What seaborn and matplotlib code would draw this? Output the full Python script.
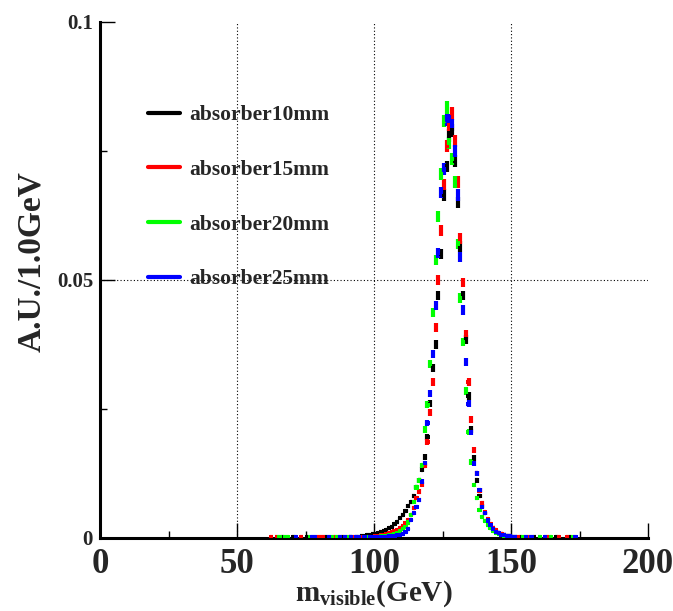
import numpy as np
import pandas as pd
import matplotlib
matplotlib.use("Agg")
import matplotlib.pyplot as plt
import seaborn as sns
from matplotlib.lines import Line2D
from matplotlib.ticker import MultipleLocator, FixedLocator, FixedFormatter

# ---------------- data (A.U. per 1 GeV bin) ----------------
series_names = ["absorber10mm", "absorber15mm", "absorber20mm", "absorber25mm"]
series_colors = ["#000000", "#ff0000", "#00ff00", "#0000ff"]

# lower bin edges of the core region (1 GeV bins, 100..149)
core_edges = list(range(100, 150))

black_core = [0.0008, 0.0010, 0.0012, 0.0014, 0.0016, 0.0019, 0.0022, 0.0027, 0.0031, 0.0038,
              0.0045, 0.0053, 0.0062, 0.0070, 0.0082, 0.0099, 0.0112, 0.0132, 0.0157, 0.0196,
              0.0260, 0.0330, 0.0375, 0.0470, 0.0550, 0.0665, 0.0720, 0.0780, 0.0790, 0.0730,
              0.0650, 0.0565, 0.0470, 0.0385, 0.0275, 0.0210, 0.0155, 0.0112, 0.0082, 0.0062,
              0.0048, 0.0035, 0.0026, 0.0019, 0.0013, 0.0009, 0.0007, 0.0005, 0.0004, 0.0003]
red_core = [0.0003, 0.0004, 0.0005, 0.0006, 0.0007, 0.0009, 0.0011, 0.0013, 0.0016, 0.0019,
            0.0023, 0.0028, 0.0035, 0.0045, 0.0058, 0.0078, 0.0090, 0.0104, 0.0140, 0.0186,
            0.0244, 0.0302, 0.0408, 0.0500, 0.0596, 0.0685, 0.0760, 0.0800, 0.0823, 0.0770,
            0.0690, 0.0580, 0.0495, 0.0395, 0.0302, 0.0230, 0.0170, 0.0125, 0.0092, 0.0068,
            0.0050, 0.0037, 0.0027, 0.0020, 0.0015, 0.0010, 0.0007, 0.0005, 0.0004, 0.0003]
green_core = [0.0002, 0.0002, 0.0003, 0.0003, 0.0004, 0.0005, 0.0006, 0.0008, 0.0010, 0.0013,
              0.0017, 0.0022, 0.0030, 0.0045, 0.0070, 0.0098, 0.0112, 0.0141, 0.0210, 0.0258,
              0.0338, 0.0437, 0.0539, 0.0624, 0.0705, 0.0808, 0.0834, 0.0765, 0.0735, 0.0690,
              0.0570, 0.0465, 0.0380, 0.0285, 0.0205, 0.0147, 0.0103, 0.0078, 0.0054, 0.0041,
              0.0033, 0.0025, 0.0019, 0.0014, 0.0010, 0.0007, 0.0005, 0.0004, 0.0003, 0.0002]
blue_core = [0.0001, 0.0001, 0.0002, 0.0002, 0.0002, 0.0003, 0.0003, 0.0004, 0.0005, 0.0006,
             0.0008, 0.0012, 0.0018, 0.0035, 0.0048, 0.0060, 0.0074, 0.0109, 0.0145, 0.0223,
             0.0280, 0.0357, 0.0450, 0.0552, 0.0670, 0.0715, 0.0810, 0.0810, 0.0800, 0.0750,
             0.0665, 0.0545, 0.0442, 0.0341, 0.0260, 0.0205, 0.0145, 0.0125, 0.0093, 0.0060,
             0.0048, 0.0034, 0.0025, 0.0018, 0.0012, 0.0009, 0.0006, 0.0005, 0.0004, 0.0003]

# sparse far tails: lower bin edges and values
black_tail_edges = [66, 70, 75, 82, 88, 91, 93, 95, 96, 97, 98, 99, 151, 153, 158, 166, 171]
black_tail_vals = [0.0001, 0.0001, 0.0001, 0.0001, 0.0001, 0.0002, 0.0002, 0.0003, 0.0004, 0.0005,
                   0.0006, 0.0007, 0.0002, 0.0001, 0.0001, 0.0001, 0.0001]
red_tail_edges = [62, 64, 73, 79, 80, 81, 85, 92, 95, 97, 98, 99, 150, 152, 156, 163, 167, 170]
red_tail_vals = [0.0001, 0.0001, 0.0001, 0.0001, 0.0001, 0.0001, 0.0001, 0.0001, 0.0001, 0.0002,
                 0.0002, 0.0002, 0.0002, 0.0001, 0.0001, 0.0001, 0.0001, 0.0001]
green_tail_edges = [65, 67, 68, 76, 84, 86, 90, 94, 96, 97, 99, 150, 154, 160, 164, 172]
green_tail_vals = [0.0001, 0.0001, 0.0001, 0.0001, 0.0001, 0.0001, 0.0001, 0.0001, 0.0001, 0.0001,
                   0.0002, 0.0002, 0.0001, 0.0001, 0.0001, 0.0001]
blue_tail_edges = [71, 77, 78, 83, 87, 89, 91, 93, 94, 96, 98, 99, 150, 151, 155, 157, 162, 173]
blue_tail_vals = [0.0001, 0.0001, 0.0001, 0.0001, 0.0001, 0.0001, 0.0001, 0.0001, 0.0001, 0.0001,
                  0.0001, 0.0001, 0.0002, 0.0002, 0.0001, 0.0001, 0.0001, 0.0001]

x_ticks = [0, 50, 100, 150, 200]
x_tick_labels = ["0", "50", "100", "150", "200"]
y_ticks = [0, 0.05, 0.1]
y_tick_labels = ["0", "0.05", "0.1"]
x_grid = [50, 100, 150]
y_grid = [0.05]

N_EVENTS = 55000  # sets the size of the statistical error bars

# ---------------- table ----------------
cores = [black_core, red_core, green_core, blue_core]
tails = [(black_tail_edges, black_tail_vals), (red_tail_edges, red_tail_vals),
         (green_tail_edges, green_tail_vals), (blue_tail_edges, blue_tail_vals)]
rows = []
for name, core, (te, tv) in zip(series_names, cores, tails):
    for e, v in zip(core_edges, core):
        rows.append((name, e + 0.5, v))
    for e, v in zip(te, tv):
        rows.append((name, e + 0.5, v))
df = pd.DataFrame(rows, columns=["series", "mass", "value"])
df["err"] = np.sqrt(df["value"] / N_EVENTS)

# ---------------- style ----------------
sns.set_theme(style="white")
plt.rcParams["font.family"] = ["Liberation Serif", "DejaVu Serif"]
plt.rcParams["font.weight"] = "bold"
plt.rcParams["mathtext.fontset"] = "custom"
plt.rcParams["mathtext.rm"] = "Liberation Serif:bold"
plt.rcParams["mathtext.bf"] = "Liberation Serif:bold"
plt.rcParams["mathtext.it"] = "Liberation Serif:bold"

fig = plt.figure(figsize=(6.73, 6.11), dpi=100)
ax = fig.add_axes([0.1486, 0.1195, 0.8143, 0.8445])

# grid (dotted) at inner major ticks only
for gx in x_grid:
    ax.axvline(gx, linestyle=(0, (1, 2)), color="black", linewidth=0.8, zorder=1)
for gy in y_grid:
    ax.axhline(gy, linestyle=(0, (1, 2)), color="black", linewidth=0.8, zorder=1)

palette = dict(zip(series_names, series_colors))
for name in series_names:
    d = df[df["series"] == name]
    ax.errorbar(d["mass"], d["value"], yerr=d["err"], xerr=0.5, fmt="none",
                ecolor=palette[name], elinewidth=3.0, capsize=0, zorder=3)
sns.scatterplot(data=df, x="mass", y="value", hue="series", palette=palette,
                hue_order=series_names, marker="s", s=9, linewidth=0,
                legend=False, ax=ax, zorder=4)

ax.set_xlim(0, 200)
ax.set_ylim(0, 0.1)

ax.xaxis.set_major_locator(FixedLocator(x_ticks))
ax.xaxis.set_major_formatter(FixedFormatter(x_tick_labels))
ax.xaxis.set_minor_locator(MultipleLocator(25))
ax.yaxis.set_major_locator(FixedLocator(y_ticks))
ax.yaxis.set_major_formatter(FixedFormatter(y_tick_labels))
ax.yaxis.set_minor_locator(MultipleLocator(0.025))

ax.tick_params(axis="both", which="major", direction="in", length=11, width=1,
               color="black", bottom=True, left=True, top=False, right=False)
ax.tick_params(axis="both", which="minor", direction="in", length=5, width=1,
               color="black", bottom=True, left=True, top=False, right=False)
ax.tick_params(axis="x", which="major", labelsize=25, pad=7)
ax.tick_params(axis="y", which="major", labelsize=15, pad=5)
for lab in ax.get_xticklabels() + ax.get_yticklabels():
    lab.set_fontweight("bold")

ax.grid(False)
for side in ["top", "right"]:
    ax.spines[side].set_visible(False)
for side in ["left", "bottom"]:
    ax.spines[side].set_linewidth(2.2)
    ax.spines[side].set_color("black")

ax.set_xlabel(r"$\mathrm{m_{visible}}$(GeV)", fontsize=21, fontweight="bold", labelpad=-2)
ax.set_ylabel("A.U./1.0GeV", fontsize=24, fontweight="bold")
ax.yaxis.set_label_coords(-0.097, 0.535)

handles = [Line2D([0], [0], color=c, lw=3) for c in series_colors]
leg = ax.legend(handles, series_names, loc="upper left", bbox_to_anchor=(0.071, 0.855),
                frameon=False, fontsize=15.5, handlelength=1.5, handletextpad=0.42,
                labelspacing=1.6, borderaxespad=0)
for t in leg.get_texts():
    t.set_fontweight("bold")

fig.savefig("out.png", dpi=100)
